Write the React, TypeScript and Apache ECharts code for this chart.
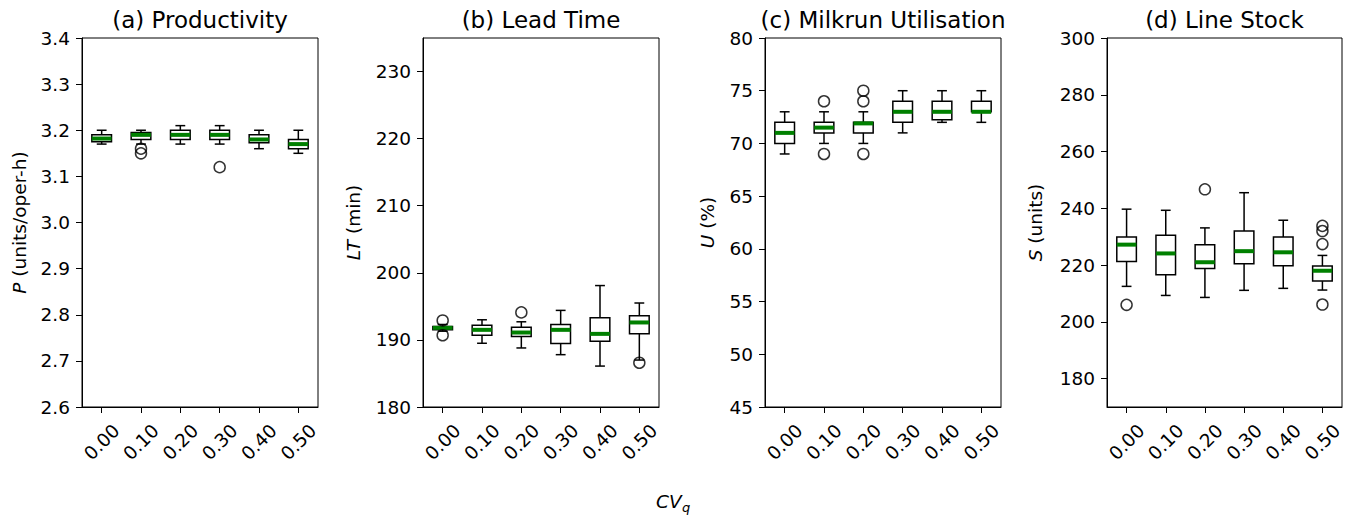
import React, { useEffect, useRef } from "react";
import * as echarts from "echarts";

const categories = ["0.00", "0.10", "0.20", "0.30", "0.40", "0.50"];

// [min whisker, Q1, median, Q3, max whisker]
const productivityStats = [
  [3.17, 3.175, 3.182, 3.19, 3.2],
  [3.17, 3.18, 3.19, 3.195, 3.2],
  [3.17, 3.18, 3.19, 3.2, 3.21],
  [3.17, 3.18, 3.19, 3.2, 3.21],
  [3.16, 3.173, 3.18, 3.19, 3.2],
  [3.15, 3.16, 3.17, 3.18, 3.2],
];
const productivityOutliers = [
  [1, 3.16],
  [1, 3.15],
  [3, 3.12],
];

const leadTimeStats = [
  [191.3, 191.5, 191.8, 192.0, 192.3],
  [189.5, 190.7, 191.5, 192.2, 193.0],
  [188.8, 190.5, 191.1, 191.9, 192.7],
  [187.8, 189.45, 191.5, 192.3, 194.4],
  [186.1, 189.8, 190.9, 193.3, 198.1],
  [187.0, 190.9, 192.6, 193.6, 195.5],
];
const leadTimeOutliers = [
  [0, 192.9],
  [0, 190.7],
  [2, 194.1],
  [5, 186.6],
];

const utilisationStats = [
  [69, 70, 71, 72, 73],
  [70, 71, 71.5, 72, 73],
  [70, 71, 71.9, 72, 73],
  [71, 72, 73, 74, 75],
  [72, 72.25, 73, 74, 75],
  [72, 73, 73, 74, 75],
];
const utilisationOutliers = [
  [1, 74],
  [1, 69],
  [2, 75],
  [2, 74],
  [2, 69],
];

const stockStats = [
  [212.5, 221.3, 227.2, 229.9, 239.7],
  [209.3, 216.6, 224.1, 230.5, 239.3],
  [208.6, 218.8, 221.0, 227.2, 233.1],
  [211.1, 220.5, 224.9, 232.0, 245.5],
  [211.8, 219.8, 224.5, 229.9, 235.8],
  [211.2, 214.35, 218.0, 219.65, 223.4],
];
const stockOutliers = [
  [0, 206.0],
  [2, 246.7],
  [5, 233.8],
  [5, 232.0],
  [5, 227.4],
  [5, 206.1],
];

const titles = ["(a) Productivity", "(b) Lead Time", "(c) Milkrun Utilisation", "(d) Line Stock"];
const yNames = ["{i|P} (units/oper-h)", "{i|LT} (min)", "{i|U} (%)", "{i|S} (units)"];

const productivityTicks = [2.6, 2.7, 2.8, 2.9, 3.0, 3.1, 3.2, 3.3, 3.4];
const leadTimeTicks = [180, 190, 200, 210, 220, 230];
const utilisationTicks = [45, 50, 55, 60, 65, 70, 75, 80];
const stockTicks = [180, 200, 220, 240, 260, 280, 300];

const yRanges = [
  [2.6, 3.4],
  [180, 235],
  [45, 80],
  [170, 300],
];

const FONT = "DejaVu Sans";
const TICK_FS = 18.5;

function renderBox(params: any, api: any) {
  const x = api.value(0);
  const pMin = api.coord([x, api.value(1)]);
  const pQ1 = api.coord([x, api.value(2)]);
  const pMed = api.coord([x, api.value(3)]);
  const pQ3 = api.coord([x, api.value(4)]);
  const pMax = api.coord([x, api.value(5)]);
  const band = api.size([1, 0])[0];
  const hw = band * 0.25;
  const cw = band * 0.125;
  const cx = pMed[0];
  const line = (x1: number, y1: number, x2: number, y2: number, stroke: string, lw: number) => ({
    type: "line",
    shape: { x1, y1, x2, y2 },
    style: { stroke, lineWidth: lw },
  });
  return {
    type: "group",
    children: [
      line(cx, pMin[1], cx, pQ1[1], "#000", 1.5),
      line(cx, pQ3[1], cx, pMax[1], "#000", 1.5),
      line(cx - cw, pMin[1], cx + cw, pMin[1], "#000", 1.5),
      line(cx - cw, pMax[1], cx + cw, pMax[1], "#000", 1.5),
      {
        type: "rect",
        shape: { x: cx - hw, y: pQ3[1], width: 2 * hw, height: pQ1[1] - pQ3[1] },
        style: { fill: "none", stroke: "#000", lineWidth: 1.5 },
      },
      line(cx - hw, pMed[1], cx + hw, pMed[1], "#008000", 4),
    ],
  };
}

export default function App() {
  const ref = useRef<HTMLDivElement>(null);

  useEffect(() => {
    if (!ref.current) return;
    const chart = echarts.init(ref.current, undefined, { renderer: "svg" });

    const gridLefts = [82, 423, 765, 1107];
    const gridWidths = [236, 236, 236, 235];
    const nameGaps = [53, 60, 48, 62];
    const tickSets = [productivityTicks, leadTimeTicks, utilisationTicks, stockTicks];
    const statsSets = [productivityStats, leadTimeStats, utilisationStats, stockStats];
    const outlierSets = [productivityOutliers, leadTimeOutliers, utilisationOutliers, stockOutliers];

    const grids = gridLefts.map((left, i) => ({
      left,
      top: 38,
      width: gridWidths[i],
      height: 369,
      show: true,
      borderColor: "#000",
      borderWidth: 1,
      backgroundColor: "transparent",
    }));

    const xAxes = gridLefts.map((_, i) => ({
      type: "category",
      gridIndex: i,
      data: categories,
      boundaryGap: true,
      axisLine: { show: true, lineStyle: { color: "#000", width: 1 } },
      axisTick: { show: true, alignWithLabel: true, length: 6, lineStyle: { color: "#000", width: 1 } },
      axisLabel: {
        rotate: 45,
        align: "center",
        verticalAlign: "middle",
        margin: 35,
        color: "#000",
        fontSize: TICK_FS,
        fontFamily: FONT,
        interval: 0,
      },
      splitLine: { show: false },
    }));

    const yAxes = gridLefts.map((_, i) => ({
      type: "value",
      gridIndex: i,
      min: yRanges[i][0],
      max: yRanges[i][1],
      name: yNames[i],
      nameLocation: "middle",
      nameGap: nameGaps[i],
      nameTextStyle: {
        color: "#000",
        fontSize: TICK_FS,
        fontFamily: FONT,
        rich: { i: { fontStyle: "italic", fontSize: TICK_FS, fontFamily: FONT, color: "#000" } },
      },
      axisLine: { show: true, lineStyle: { color: "#000", width: 1 } },
      axisTick: {
        show: true,
        length: 6,
        customValues: tickSets[i],
        lineStyle: { color: "#000", width: 1 },
      },
      axisLabel: {
        customValues: tickSets[i],
        color: "#000",
        fontSize: TICK_FS,
        fontFamily: FONT,
        margin: 12,
        formatter: (v: number) => (i === 0 ? v.toFixed(1) : String(Math.round(v))),
      },
      splitLine: { show: false },
    }));

    const series: any[] = [];
    statsSets.forEach((stats, i) => {
      series.push({
        type: "custom",
        xAxisIndex: i,
        yAxisIndex: i,
        renderItem: renderBox,
        encode: { x: 0, y: [1, 2, 3, 4, 5] },
        data: stats.map((s, k) => [k, ...s]),
        z: 2,
      });
      series.push({
        type: "scatter",
        xAxisIndex: i,
        yAxisIndex: i,
        symbol: "circle",
        symbolSize: 11,
        itemStyle: { color: "rgba(0,0,0,0)", borderColor: "#000", borderWidth: 1.5 },
        data: outlierSets[i],
        z: 3,
      });
    });

    const graphic: any[] = titles.map((t, i) => ({
      type: "text",
      x: gridLefts[i] + gridWidths[i] / 2,
      y: 20,
      style: {
        text: t,
        fontSize: 23,
        fontFamily: FONT,
        fill: "#000",
        align: "center",
        verticalAlign: "middle",
      },
    }));
    graphic.push({
      type: "text",
      x: 656,
      y: 501,
      style: {
        text: "CV",
        fontSize: TICK_FS,
        fontStyle: "italic",
        fontFamily: FONT,
        fill: "#000",
        align: "left",
        verticalAlign: "middle",
      },
    });
    graphic.push({
      type: "text",
      x: 682,
      y: 507,
      style: {
        text: "q",
        fontSize: 13,
        fontStyle: "italic",
        fontFamily: FONT,
        fill: "#000",
        align: "left",
        verticalAlign: "middle",
      },
    });

    chart.setOption({
      animation: false,
      backgroundColor: "#fff",
      grid: grids,
      xAxis: xAxes,
      yAxis: yAxes,
      series,
      graphic,
    });

    return () => {
      chart.dispose();
    };
  }, []);

  return (
    <div
      ref={ref}
      style={{ position: "fixed", left: 0, top: 0, width: 1349, height: 515, background: "#fff" }}
    />
  );
}
